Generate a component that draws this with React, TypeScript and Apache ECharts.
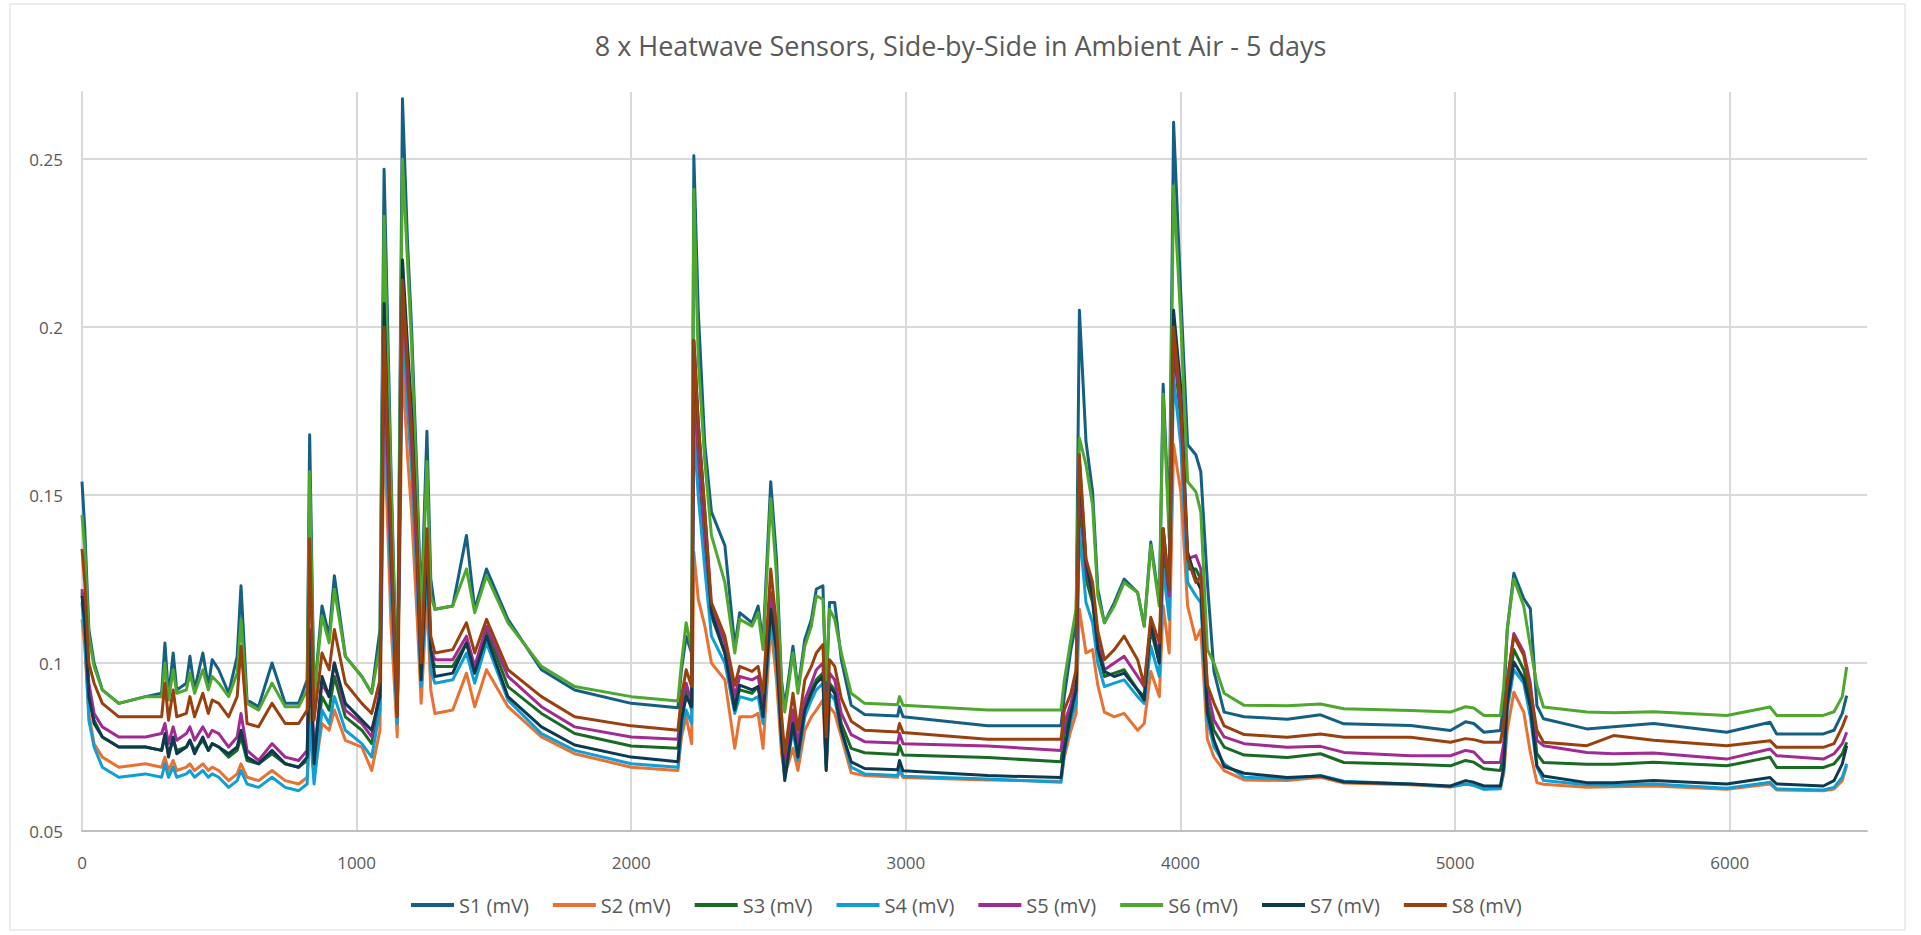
import React, { useEffect, useRef } from "react";
import * as echarts from "echarts";

const TITLE = "8 x Heatwave Sensors, Side-by-Side in Ambient Air - 5 days";
const SERIES_NAMES = ["S1 (mV)", "S2 (mV)", "S3 (mV)", "S4 (mV)", "S5 (mV)", "S6 (mV)", "S7 (mV)", "S8 (mV)"];
const COLORS = ["#156082", "#E97132", "#196B24", "#0F9ED5", "#A02B93", "#4EA72E", "#0D3A4E", "#99400F"];

const X = [
  0, 10, 25, 44, 74, 134, 231, 290, 302, 315, 332, 345, 380, 393, 410, 440, 460, 474, 498, 534, 565, 579, 601, 643, 692, 740, 789, 820, 829, 845, 874, 900, 919, 959, 1019, 1055, 1085,
  1100, 1125, 1148, 1167, 1185, 1200, 1220, 1235, 1256, 1270, 1285, 1350, 1400, 1430, 1473, 1551, 1673, 1794, 2000, 2170,
  2183, 2200, 2220, 2228, 2244, 2268, 2292, 2341, 2377, 2395, 2440, 2462, 2480, 2508, 2529, 2547, 2559, 2589, 2607, 2632, 2656, 2674, 2698, 2710, 2722, 2741, 2765, 2801, 2850, 2970, 2977, 2990, 3298,
  3565, 3577, 3601, 3620, 3632, 3656, 3680, 3699, 3723, 3759, 3795, 3844, 3868, 3892, 3923, 3937, 3959, 3975, 4001, 4026, 4056, 4074, 4098, 4122, 4159, 4232, 4389,
  4510, 4595, 4838, 4983, 5038, 5068, 5105, 5165, 5177, 5190, 5214, 5250, 5274, 5298, 5322, 5480,
  5577, 5723, 5989, 6147, 6171, 6341, 6380, 6410, 6426,
];

const S1 = [
  0.154, 0.140, 0.110, 0.100, 0.092, 0.088, 0.090, 0.091, 0.106, 0.090, 0.103, 0.092, 0.094, 0.102, 0.092, 0.103, 0.093, 0.101, 0.098, 0.091, 0.102, 0.123, 0.089, 0.087, 0.100, 0.088, 0.088, 0.095, 0.168, 0.090, 0.117, 0.108, 0.126, 0.102, 0.096, 0.091, 0.110,
  0.247, 0.158, 0.088, 0.268, 0.226, 0.200, 0.155, 0.115, 0.169, 0.125, 0.116, 0.117, 0.138, 0.116, 0.128, 0.113, 0.098, 0.092, 0.088, 0.0867,
  0.098, 0.108, 0.103, 0.251, 0.205, 0.165, 0.145, 0.135, 0.105, 0.115, 0.112, 0.117, 0.106, 0.154, 0.131, 0.095, 0.087, 0.105, 0.092, 0.107, 0.113, 0.122, 0.123, 0.090, 0.118, 0.118, 0.101, 0.0874, 0.0847, 0.0842, 0.0870, 0.0840, 0.0813,
  0.0813, 0.090, 0.104, 0.112, 0.205, 0.166, 0.151, 0.122, 0.112, 0.118, 0.125, 0.121, 0.111, 0.136, 0.118, 0.183, 0.140, 0.261, 0.210, 0.165, 0.162, 0.157, 0.124, 0.0975, 0.0854, 0.084, 0.0833,
  0.0846, 0.0819, 0.0814, 0.0799, 0.0825, 0.0820, 0.0794, 0.0799, 0.088, 0.110, 0.1267, 0.1192, 0.1162, 0.0873, 0.0834, 0.0804,
  0.0810, 0.0820, 0.0794, 0.0824, 0.0789, 0.0789, 0.0800, 0.0850, 0.0903,
];

const S2 = [
  0.113, 0.105, 0.085, 0.076, 0.072, 0.069, 0.070, 0.069, 0.072, 0.068, 0.071, 0.068, 0.069, 0.070, 0.068, 0.070, 0.068, 0.069, 0.068, 0.065, 0.067, 0.070, 0.066, 0.065, 0.068, 0.065, 0.064, 0.066, 0.085, 0.066, 0.082, 0.080, 0.086, 0.077, 0.075, 0.068, 0.080,
  0.172, 0.112, 0.078, 0.190, 0.162, 0.145, 0.114, 0.088, 0.120, 0.092, 0.085, 0.086, 0.097, 0.087, 0.098, 0.087, 0.078, 0.073, 0.069, 0.068,
  0.078, 0.084, 0.076, 0.133, 0.119, 0.111, 0.100, 0.095, 0.0746, 0.084, 0.084, 0.085, 0.0746, 0.111, 0.095, 0.0733, 0.0666, 0.0746, 0.068, 0.080, 0.084, 0.086, 0.089, 0.068, 0.087, 0.085, 0.078, 0.0673, 0.0665, 0.066, 0.068, 0.0659, 0.0652,
  0.0648, 0.072, 0.080, 0.085, 0.116, 0.103, 0.104, 0.0934, 0.0854, 0.084, 0.085, 0.080, 0.082, 0.0975, 0.090, 0.117, 0.103, 0.165, 0.151, 0.117, 0.107, 0.110, 0.0773, 0.072, 0.068, 0.0652, 0.065,
  0.066, 0.0643, 0.0638, 0.0631, 0.0640, 0.0636, 0.0625, 0.0628, 0.067, 0.080, 0.0913, 0.0854, 0.0734, 0.0644, 0.0639, 0.063,
  0.0632, 0.0634, 0.0624, 0.0640, 0.0622, 0.062, 0.0625, 0.0650, 0.0694,
];

const S3 = [
  0.121, 0.112, 0.092, 0.083, 0.078, 0.075, 0.075, 0.074, 0.078, 0.073, 0.077, 0.074, 0.075, 0.077, 0.074, 0.077, 0.074, 0.076, 0.075, 0.072, 0.074, 0.078, 0.071, 0.070, 0.073, 0.070, 0.069, 0.071, 0.100, 0.071, 0.090, 0.086, 0.096, 0.084, 0.080, 0.076, 0.090,
  0.190, 0.128, 0.084, 0.208, 0.182, 0.163, 0.128, 0.095, 0.133, 0.102, 0.099, 0.099, 0.106, 0.097, 0.110, 0.093, 0.085, 0.079, 0.0753, 0.0746,
  0.085, 0.092, 0.086, 0.180, 0.160, 0.135, 0.114, 0.103, 0.088, 0.092, 0.091, 0.093, 0.085, 0.118, 0.104, 0.080, 0.068, 0.083, 0.073, 0.087, 0.092, 0.095, 0.097, 0.070, 0.094, 0.092, 0.082, 0.0746, 0.0733, 0.0728, 0.0755, 0.0726, 0.0719,
  0.0706, 0.079, 0.086, 0.092, 0.150, 0.125, 0.118, 0.104, 0.096, 0.097, 0.098, 0.092, 0.090, 0.110, 0.100, 0.135, 0.118, 0.195, 0.172, 0.128, 0.128, 0.125, 0.088, 0.080, 0.075, 0.0726, 0.0719,
  0.073, 0.0704, 0.0699, 0.0694, 0.0710, 0.0705, 0.0685, 0.068, 0.073, 0.090, 0.104, 0.098, 0.090, 0.073, 0.0704, 0.0699,
  0.0699, 0.0705, 0.0694, 0.0720, 0.0689, 0.0689, 0.0700, 0.0730, 0.0764,
];

const S4 = [
  0.118, 0.108, 0.083, 0.075, 0.069, 0.066, 0.067, 0.066, 0.070, 0.066, 0.069, 0.066, 0.067, 0.068, 0.066, 0.068, 0.066, 0.067, 0.066, 0.063, 0.065, 0.068, 0.064, 0.063, 0.066, 0.063, 0.062, 0.064, 0.082, 0.064, 0.086, 0.082, 0.090, 0.080, 0.076, 0.072, 0.086,
  0.185, 0.122, 0.082, 0.203, 0.176, 0.158, 0.124, 0.093, 0.128, 0.098, 0.094, 0.095, 0.103, 0.094, 0.106, 0.089, 0.079, 0.074, 0.070, 0.069,
  0.080, 0.086, 0.082, 0.170, 0.150, 0.128, 0.108, 0.100, 0.085, 0.090, 0.089, 0.090, 0.082, 0.114, 0.100, 0.078, 0.066, 0.080, 0.071, 0.084, 0.089, 0.092, 0.094, 0.069, 0.091, 0.089, 0.080, 0.069, 0.067, 0.0665, 0.069, 0.0663, 0.0655,
  0.0645, 0.073, 0.083, 0.088, 0.140, 0.118, 0.112, 0.100, 0.093, 0.094, 0.095, 0.090, 0.088, 0.105, 0.096, 0.128, 0.113, 0.185, 0.165, 0.124, 0.120, 0.118, 0.083, 0.075, 0.070, 0.066, 0.0655,
  0.0665, 0.0648, 0.064, 0.0632, 0.064, 0.0636, 0.0624, 0.0626, 0.068, 0.086, 0.098, 0.094, 0.084, 0.069, 0.065, 0.0638,
  0.0636, 0.064, 0.0627, 0.0645, 0.0625, 0.0622, 0.063, 0.066, 0.070,
];

const S5 = [
  0.122, 0.114, 0.094, 0.085, 0.081, 0.078, 0.078, 0.079, 0.082, 0.076, 0.081, 0.077, 0.079, 0.081, 0.077, 0.081, 0.078, 0.080, 0.079, 0.075, 0.078, 0.085, 0.074, 0.071, 0.076, 0.072, 0.071, 0.074, 0.105, 0.073, 0.094, 0.090, 0.100, 0.086, 0.082, 0.078, 0.092,
  0.192, 0.130, 0.084, 0.211, 0.185, 0.165, 0.130, 0.097, 0.136, 0.104, 0.101, 0.101, 0.108, 0.099, 0.111, 0.096, 0.087, 0.081, 0.078, 0.0773,
  0.088, 0.094, 0.088, 0.185, 0.163, 0.138, 0.116, 0.106, 0.090, 0.096, 0.095, 0.096, 0.088, 0.121, 0.107, 0.082, 0.070, 0.086, 0.076, 0.089, 0.094, 0.098, 0.100, 0.073, 0.097, 0.095, 0.085, 0.0787, 0.0766, 0.0762, 0.079, 0.076, 0.0753,
  0.074, 0.082, 0.088, 0.094, 0.155, 0.128, 0.120, 0.106, 0.098, 0.100, 0.102, 0.096, 0.093, 0.112, 0.102, 0.138, 0.120, 0.198, 0.175, 0.131, 0.132, 0.128, 0.092, 0.083, 0.078, 0.076, 0.0749,
  0.0752, 0.0734, 0.0724, 0.0724, 0.0740, 0.0735, 0.0704, 0.0704, 0.076, 0.094, 0.1088, 0.1033, 0.094, 0.077, 0.0754, 0.0734,
  0.0730, 0.0732, 0.0714, 0.0744, 0.0724, 0.0714, 0.0730, 0.0760, 0.0794,
];

const S6 = [
  0.144, 0.134, 0.108, 0.099, 0.092, 0.088, 0.090, 0.090, 0.100, 0.089, 0.098, 0.091, 0.092, 0.097, 0.091, 0.098, 0.092, 0.096, 0.094, 0.090, 0.097, 0.113, 0.088, 0.086, 0.094, 0.087, 0.087, 0.092, 0.157, 0.090, 0.114, 0.106, 0.122, 0.102, 0.096, 0.091, 0.105,
  0.233, 0.154, 0.088, 0.250, 0.220, 0.195, 0.150, 0.112, 0.160, 0.120, 0.116, 0.117, 0.128, 0.115, 0.126, 0.112, 0.099, 0.093, 0.090, 0.0887,
  0.100, 0.112, 0.104, 0.241, 0.190, 0.160, 0.138, 0.124, 0.103, 0.113, 0.111, 0.115, 0.104, 0.149, 0.126, 0.0934, 0.0854, 0.103, 0.091, 0.105, 0.111, 0.120, 0.119, 0.095, 0.116, 0.113, 0.103, 0.091, 0.088, 0.0876, 0.090, 0.0874, 0.086,
  0.086, 0.0948, 0.107, 0.116, 0.167, 0.159, 0.147, 0.120, 0.112, 0.117, 0.124, 0.121, 0.111, 0.135, 0.117, 0.180, 0.137, 0.242, 0.202, 0.154, 0.151, 0.145, 0.104, 0.100, 0.091, 0.0874, 0.0873,
  0.0878, 0.0864, 0.0859, 0.0854, 0.0870, 0.0866, 0.0844, 0.0844, 0.093, 0.110, 0.125, 0.117, 0.105, 0.0933, 0.0869, 0.0854,
  0.0852, 0.0855, 0.0844, 0.0869, 0.0844, 0.0844, 0.0855, 0.0900, 0.0988,
];

const S7 = [
  0.120, 0.112, 0.090, 0.082, 0.078, 0.075, 0.075, 0.074, 0.079, 0.072, 0.078, 0.073, 0.075, 0.077, 0.073, 0.078, 0.074, 0.076, 0.075, 0.073, 0.075, 0.080, 0.072, 0.070, 0.074, 0.070, 0.069, 0.072, 0.110, 0.070, 0.096, 0.090, 0.100, 0.088, 0.083, 0.080, 0.090,
  0.207, 0.135, 0.085, 0.220, 0.195, 0.175, 0.136, 0.095, 0.135, 0.104, 0.096, 0.097, 0.106, 0.097, 0.108, 0.090, 0.081, 0.0756, 0.072, 0.0706,
  0.083, 0.090, 0.087, 0.196, 0.172, 0.145, 0.115, 0.103, 0.086, 0.0934, 0.092, 0.093, 0.084, 0.116, 0.104, 0.078, 0.065, 0.082, 0.072, 0.086, 0.091, 0.094, 0.096, 0.068, 0.093, 0.091, 0.080, 0.0706, 0.0686, 0.0682, 0.071, 0.0679, 0.0665,
  0.0659, 0.074, 0.085, 0.092, 0.160, 0.130, 0.120, 0.104, 0.0975, 0.096, 0.097, 0.092, 0.089, 0.112, 0.100, 0.140, 0.122, 0.205, 0.182, 0.133, 0.125, 0.122, 0.085, 0.077, 0.0692, 0.0672, 0.0659,
  0.0664, 0.0646, 0.064, 0.0634, 0.0650, 0.0645, 0.0634, 0.0634, 0.069, 0.088, 0.1003, 0.0953, 0.087, 0.0694, 0.0664, 0.0644,
  0.0644, 0.0650, 0.064, 0.0659, 0.064, 0.0634, 0.065, 0.070, 0.0754,
];

const S8 = [
  0.134, 0.124, 0.100, 0.094, 0.088, 0.084, 0.084, 0.084, 0.094, 0.083, 0.092, 0.084, 0.085, 0.090, 0.084, 0.091, 0.085, 0.089, 0.088, 0.084, 0.090, 0.105, 0.082, 0.081, 0.088, 0.082, 0.082, 0.086, 0.137, 0.083, 0.103, 0.098, 0.110, 0.094, 0.088, 0.085, 0.095,
  0.200, 0.138, 0.084, 0.214, 0.190, 0.170, 0.135, 0.100, 0.140, 0.108, 0.103, 0.104, 0.112, 0.103, 0.113, 0.098, 0.090, 0.084, 0.0813, 0.080,
  0.090, 0.098, 0.093, 0.196, 0.171, 0.145, 0.118, 0.108, 0.0934, 0.099, 0.0975, 0.099, 0.091, 0.128, 0.111, 0.085, 0.073, 0.091, 0.080, 0.095, 0.099, 0.103, 0.1055, 0.078, 0.101, 0.099, 0.0895, 0.0827, 0.080, 0.0795, 0.082, 0.0793, 0.0773,
  0.0773, 0.086, 0.091, 0.098, 0.162, 0.131, 0.124, 0.1096, 0.101, 0.104, 0.108, 0.101, 0.0934, 0.1136, 0.106, 0.140, 0.122, 0.200, 0.178, 0.131, 0.124, 0.126, 0.0935, 0.0881, 0.0813, 0.0787, 0.0779,
  0.0789, 0.0779, 0.0779, 0.0764, 0.0775, 0.0772, 0.0764, 0.0764, 0.082, 0.095, 0.108, 0.1023, 0.092, 0.080, 0.0764, 0.0754,
  0.0784, 0.0770, 0.0754, 0.0769, 0.0749, 0.0749, 0.0760, 0.0810, 0.0844,
];

const VALUES = [S1, S2, S3, S4, S5, S6, S7, S8];
const FONT = "'Open Sans', 'Noto Sans', sans-serif";

export default function App() {
  const ref = useRef<HTMLDivElement>(null);
  useEffect(() => {
    if (!ref.current) return;
    const chart = echarts.init(ref.current, null, { renderer: "svg" });
    const option = {
      animation: false,
      backgroundColor: "#ffffff",
      title: {
        text: TITLE,
        left: "center",
        top: 27,
        textStyle: { fontFamily: FONT, fontSize: 27, fontWeight: "normal", color: "#595959" },
      },
      grid: { left: 82, right: 54, top: 92, bottom: 104, containLabel: false },
      xAxis: {
        type: "value",
        min: 0,
        max: 6500,
        interval: 1000,
        axisLine: { show: true, lineStyle: { color: "#BFBFBF", width: 2 } },
        axisTick: { show: false },
        axisLabel: {
          color: "#595959",
          fontSize: 17,
          fontFamily: FONT,
          margin: 23,
          showMaxLabel: false,
          formatter: (v: number) => String(v),
        },
        splitLine: { show: true, showMaxLine: false, lineStyle: { color: "#D9D9D9", width: 2 } },
      },
      yAxis: {
        type: "value",
        min: 0.05,
        max: 0.27,
        interval: 0.05,
        axisLine: { show: true, lineStyle: { color: "#D9D9D9", width: 2 } },
        axisTick: { show: false },
        axisLabel: {
          color: "#595959",
          fontSize: 17,
          fontFamily: FONT,
          margin: 19,
          showMaxLabel: false,
          formatter: (v: number) => String(Number(v.toFixed(2))),
        },
        splitLine: { show: true, showMinLine: false, showMaxLine: false, lineStyle: { color: "#D9D9D9", width: 2 } },
      },
      legend: {
        left: 406,
        top: 890,
        icon: "rect",
        itemWidth: 43,
        itemHeight: 4,
        itemGap: 24,
        textStyle: { color: "#595959", fontSize: 20, fontFamily: FONT },
        data: SERIES_NAMES,
      },
      graphic: [
        {
          type: "rect",
          shape: { x: 10, y: 4, width: 1895, height: 926 },
          style: { fill: "none", stroke: "#D9D9D9", lineWidth: 1 },
          silent: true,
        },
      ],
      series: SERIES_NAMES.map((name, k) => ({
        name,
        type: "line",
        showSymbol: false,
        symbol: "none",
        color: COLORS[k],
        lineStyle: { color: COLORS[k], width: 3, join: "round" },
        emphasis: { disabled: true },
        data: X.map((x, i) => [x, VALUES[k][i]]),
      })),
    };
    chart.setOption(option as any);
    return () => chart.dispose();
  }, []);
  return <div ref={ref} style={{ position: "absolute", left: 0, top: 0, width: 1921, height: 935 }} />;
}
